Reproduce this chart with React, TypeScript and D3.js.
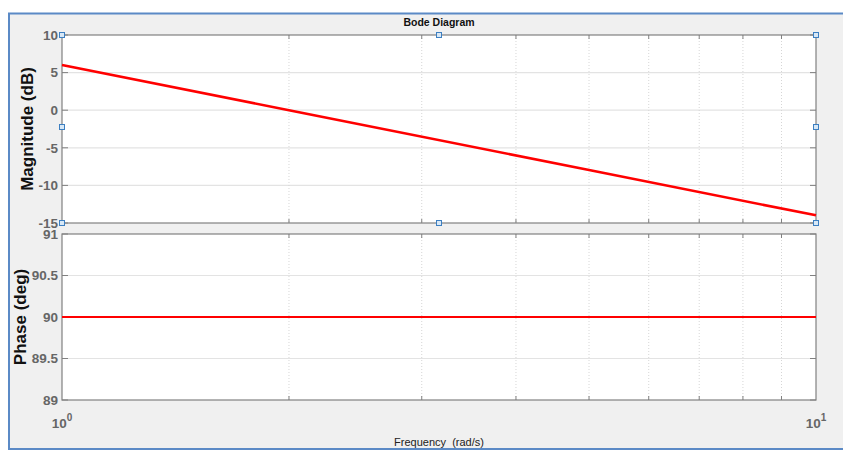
import React from "react";
import * as d3 from "d3";

// Frequency response samples (rad/s) and the response read at each one
const frequencies = [1, 2, 5, 10];
const magnitudeDb = [6.02, 0.0, -7.96, -13.98];
const phaseDeg = [90, 90, 90, 90];

const magTicks = [10, 5, 0, -5, -10, -15];
const phaseTicks = [91, 90.5, 90, 89.5, 89];
const minorFreqs = [2, 3, 4, 5, 6, 7, 8, 9];
const decadeLabels = [
  { value: 1, base: "10", exp: "0" },
  { value: 10, base: "10", exp: "1" },
];

const W = 843;
const H = 450;
const left = 62;
const right = 816;
const magTop = 35;
const magBottom = 223;
const phTop = 234;
const phBottom = 400;

const axisGray = "#808080";
const labelGray = "#666666";
const gridGray = "#e3e3e3";
const handleBlue = "#3d7fc1";

export default function App() {
  const x = d3.scaleLog().domain([1, 10]).range([left, right]);
  const yMag = d3.scaleLinear().domain([-15, 10]).range([magBottom, magTop]);
  const yPh = d3.scaleLinear().domain([89, 91]).range([phBottom, phTop]);

  const magLine = d3
    .line<number>()
    .x((_, i) => x(frequencies[i]))
    .y((d) => yMag(d));
  const phLine = d3
    .line<number>()
    .x((_, i) => x(frequencies[i]))
    .y((d) => yPh(d));

  const font = "'Liberation Sans', Arial, sans-serif";

  const panel = (
    top: number,
    bottom: number,
    ticks: number[],
    y: (v: number) => number,
    fmt: (v: number) => string
  ) => (
    <g>
      <rect x={left} y={top} width={right - left} height={bottom - top} fill="#ffffff" />
      {/* horizontal grid */}
      {ticks
        .filter((t) => y(t) > top + 1 && y(t) < bottom - 1)
        .map((t) => (
          <line key={"hg" + t} x1={left} x2={right} y1={y(t)} y2={y(t)} stroke={gridGray} strokeWidth={1.2} />
        ))}
      {/* vertical dotted grid at log minor positions */}
      {minorFreqs.map((f) => (
        <line
          key={"vg" + f}
          x1={x(f)}
          x2={x(f)}
          y1={top}
          y2={bottom}
          stroke="#d6d6d6"
          strokeWidth={1}
          strokeDasharray="1,2"
        />
      ))}
      {/* x ticks, inward top and bottom */}
      {minorFreqs.map((f) => (
        <g key={"xt" + f}>
          <line x1={x(f)} x2={x(f)} y1={top} y2={top + 4} stroke={axisGray} />
          <line x1={x(f)} x2={x(f)} y1={bottom} y2={bottom - 4} stroke={axisGray} />
        </g>
      ))}
      {/* y ticks, inward left and right */}
      {ticks.map((t) => (
        <g key={"yt" + t}>
          <line x1={left} x2={left + 6} y1={y(t)} y2={y(t)} stroke={axisGray} />
          <line x1={right} x2={right - 6} y1={y(t)} y2={y(t)} stroke={axisGray} />
        </g>
      ))}
      {/* frame */}
      <rect x={left} y={top} width={right - left} height={bottom - top} fill="none" stroke={axisGray} strokeWidth={1.2} />
      {/* y tick labels */}
      {ticks.map((t) => (
        <text
          key={"yl" + t}
          x={left - 4}
          y={y(t)}
          dy="0.36em"
          textAnchor="end"
          fontFamily={font}
          fontWeight="bold"
          fontSize={13.5}
          fill={labelGray}
        >
          {fmt(t)}
        </text>
      ))}
    </g>
  );

  const handles = [
    [left, magTop],
    [(left + right) / 2, magTop],
    [right, magTop],
    [left, (magTop + magBottom) / 2 - 2],
    [right, (magTop + magBottom) / 2 - 2],
    [left, magBottom],
    [(left + right) / 2, magBottom],
    [right, magBottom],
  ];

  return (
    <svg
      width={W}
      height={H}
      style={{ position: "absolute", left: 0, top: 0, background: "#ffffff" }}
    >
      {/* figure background and window border */}
      <rect x={8} y={13} width={W - 8} height={H - 13} fill="#f0f0f0" />
      <line x1={8} x2={W} y1={13.5} y2={13.5} stroke="#5b8ac6" strokeWidth={2} />
      <line x1={9} x2={9} y1={13} y2={H} stroke="#5b8ac6" strokeWidth={2} />
      <line x1={8} x2={W} y1={449} y2={449} stroke="#5b8ac6" strokeWidth={2} />

      <text
        x={(left + right) / 2}
        y={26}
        textAnchor="middle"
        fontFamily={font}
        fontWeight="bold"
        fontSize={10.5}
        fill="#111111"
      >
        Bode Diagram
      </text>

      {panel(magTop, magBottom, magTicks, yMag, (v) => String(v))}
      {panel(phTop, phBottom, phaseTicks, yPh, (v) => String(v))}

      {/* response curves */}
      <path d={magLine(magnitudeDb) ?? ""} fill="none" stroke="#ff0000" strokeWidth={2.6} />
      <path d={phLine(phaseDeg) ?? ""} fill="none" stroke="#ff0000" strokeWidth={2} />

      {/* decade labels */}
      {decadeLabels.map((d) => (
        <text
          key={"xl" + d.value}
          x={x(d.value)}
          y={428}
          textAnchor="middle"
          fontFamily={font}
          fontWeight="bold"
          fontSize={13.5}
          fill={labelGray}
        >
          {d.base}
          <tspan dy={-7} fontSize={10}>
            {d.exp}
          </tspan>
        </text>
      ))}

      <text
        x={439}
        y={446}
        textAnchor="middle"
        fontFamily={font}
        fontSize={11}
        fill="#222222"
        style={{ whiteSpace: "pre" }}
      >
        {"Frequency  (rad/s)"}
      </text>

      {/* axis titles */}
      <text
        transform={`translate(27,${(magTop + magBottom) / 2}) rotate(-90)`}
        dy="0.36em"
        textAnchor="middle"
        fontFamily={font}
        fontWeight="bold"
        fontSize={17}
        fill="#111111"
      >
        Magnitude (dB)
      </text>
      <text
        transform={`translate(20,${(phTop + phBottom) / 2}) rotate(-90)`}
        dy="0.36em"
        textAnchor="middle"
        fontFamily={font}
        fontWeight="bold"
        fontSize={17}
        fill="#111111"
      >
        Phase (deg)
      </text>

      {/* selection handles on the magnitude axes */}
      {handles.map(([hx, hy], i) => (
        <rect
          key={"h" + i}
          x={hx - 2.5}
          y={hy - 2.5}
          width={5}
          height={5}
          fill="#d8e8f6"
          stroke={handleBlue}
          strokeWidth={1}
        />
      ))}
    </svg>
  );
}
